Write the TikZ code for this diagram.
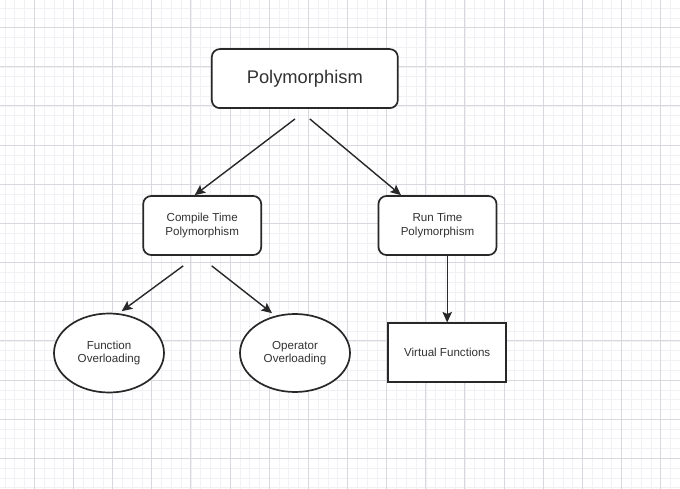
\documentclass[tikz,border=0pt]{standalone}
\usepackage{fontspec}
\setmainfont{Liberation Sans}
\usetikzlibrary{shapes.geometric,arrows.meta,calc}
\definecolor{gridmajor}{RGB}{216,216,222}
\definecolor{gridminor}{RGB}{240,240,245}
\definecolor{ink}{RGB}{40,40,40}
\definecolor{txt}{RGB}{50,50,50}
\tikzset{
  roundbox/.style={draw=ink, line width=1.7pt, rounded corners=8pt, fill=white, text=txt, align=center, inner sep=0pt},
  plainbox/.style={draw=ink, line width=1.7pt, fill=white, text=txt, align=center, inner sep=0pt},
  ovalbox/.style={draw=ink, line width=1.7pt, ellipse, fill=white, text=txt, align=center, inner sep=0pt},
  smalltext/.style={font=\fontsize{11.6}{13.4}\selectfont},
  link/.style={draw=ink, line width=1.4pt, -{Stealth[length=10.5pt,width=9.5pt,inset=2pt]}}
}
\begin{document}
\begin{tikzpicture}[x=1pt,y=-1pt]
\useasboundingbox (0,0) rectangle (680,489);
\fill[white] (0,0) rectangle (680,489);
% grid
\foreach \i in {-4,...,66} {
  \pgfmathsetmacro{\gx}{34.3+9.7875*\i}
  \draw[gridminor, line width=0.6pt] (\gx,0) -- (\gx,489);
}
\foreach \j in {-3,...,47} {
  \pgfmathsetmacro{\gy}{27.7+9.7875*\j}
  \draw[gridminor, line width=0.6pt] (0,\gy) -- (680,\gy);
}
\foreach \i in {-1,...,16} {
  \pgfmathsetmacro{\gx}{34.3+39.15*\i}
  \draw[gridmajor, line width=1pt] (\gx,0) -- (\gx,489);
}
\foreach \j in {-1,...,12} {
  \pgfmathsetmacro{\gy}{27.7+39.15*\j}
  \draw[gridmajor, line width=1pt] (0,\gy) -- (680,\gy);
}
% nodes
\node[roundbox, minimum width=186pt, minimum height=59pt, font=\fontsize{18.3}{21}\selectfont] (poly) at (304.8,78.6) {Polymorphism};
\node[roundbox, smalltext, minimum width=118pt, minimum height=59pt] (ct) at (202.2,225.5) {Compile Time\\Polymorphism};
\node[roundbox, smalltext, minimum width=118pt, minimum height=59pt] (rt) at (437.5,225.5) {Run Time\\Polymorphism};
\node[ovalbox, smalltext, minimum width=110pt, minimum height=79pt] (fo) at (109,353) {Function\\Overloading};
\node[ovalbox, smalltext, minimum width=110pt, minimum height=78pt] (oo) at (295,353) {Operator\\Overloading};
\node[plainbox, smalltext, minimum width=118pt, minimum height=59pt] (vf) at (447.2,352.8) {Virtual Functions};
% connector start points
\coordinate (pl) at ($(poly.south)+(-9.8,10)$);
\coordinate (pr) at ($(poly.south)+(5,10)$);
\coordinate (cl) at ($(ct.south)+(-19,10)$);
\coordinate (cr) at ($(ct.south)+(9.5,10)$);
% connectors
\draw[link] (pl) -- ($(ct.north)+(-7.5,0)$);
\draw[link] (pr) -- ($(rt.north)+(-36.5,0)$);
\draw[link] (cl) -- ($(fo.north)+(12.7,-1.5)$);
\draw[link] (cr) -- ($(oo.north)+(-23,0)$);
\draw[link] (rt.south -| vf.north) -- (vf.north);
\end{tikzpicture}
\end{document}
